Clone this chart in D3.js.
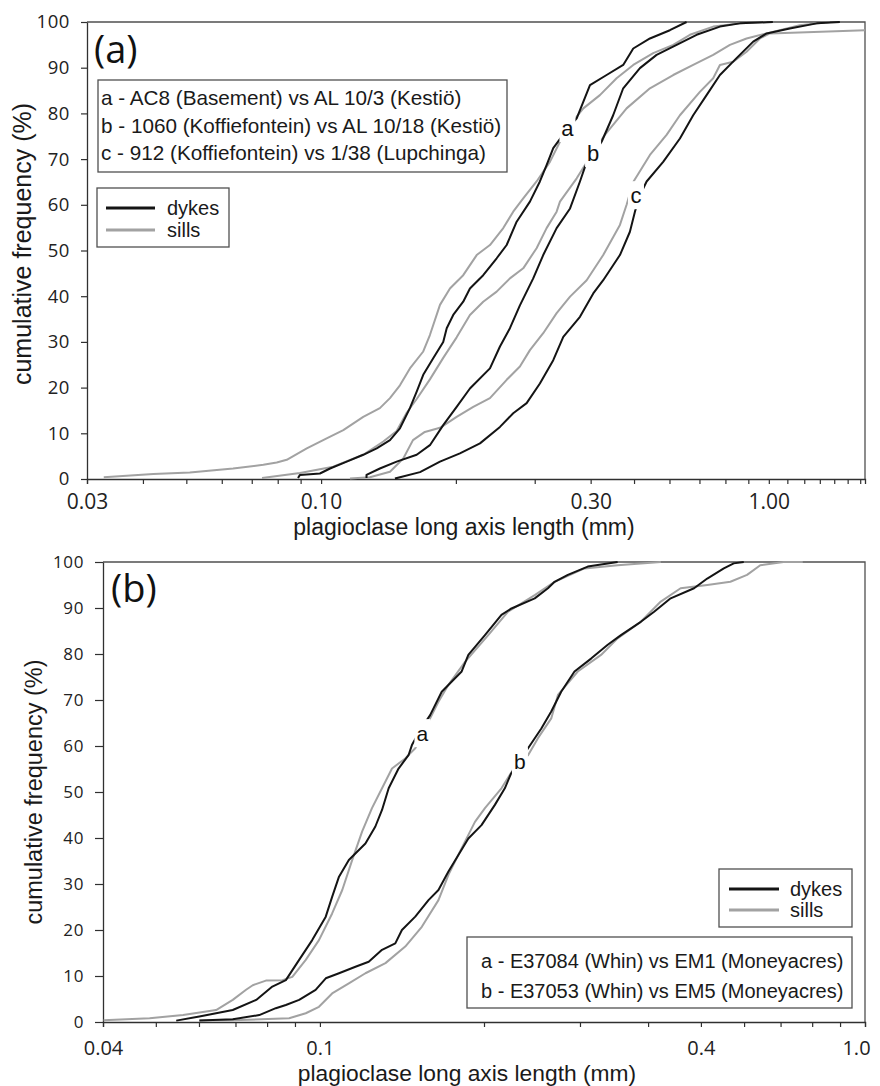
<!DOCTYPE html>
<html><head><meta charset="utf-8">
<script src="https://cdn.jsdelivr.net/npm/d3@7"></script>
<style>html,body{margin:0;padding:0;background:#fff;} svg{display:block;}</style>
</head><body>
<svg id="chart" width="880" height="1086"></svg>
<script>
// ---------------- DATA ----------------
// cumulative frequency (%) vs plagioclase long axis length (mm)
const Y_TICKS = [0,10,20,30,40,50,60,70,80,90,100];

// Panel (a)
const A_X_TICKS = [0.03,0.04,0.05,0.06,0.07,0.08,0.09,0.1,0.2,0.3,0.4,0.5,0.6,0.7,0.8,0.9,1.0,1.1,1.2,1.3,1.4,1.5,1.6];
const A_X_LABEL_AT = [0.03,0.1,0.4,1.0];
const A_X_LABELS = ["0.03","0.10","0.30","1.00"];
const A_SAMPLES = ["a - AC8 (Basement) vs AL 10/3 (Kestiö)","b - 1060 (Koffiefontein) vs AL 10/18 (Kestiö)","c - 912 (Koffiefontein) vs 1/38 (Lupchinga)"];

const A_a_sills = [[0.0327,0.4],[0.0422,1.1],[0.0509,1.4],[0.0636,2.3],[0.0743,3.1],[0.0796,3.6],[0.0838,4.2],[0.0929,6.7],[0.1029,8.9],[0.1121,10.7],[0.1242,13.6],[0.1353,15.5],[0.1425,17.7],[0.150,20.5],[0.1579,24.2],[0.1691,27.9],[0.1750,31.5],[0.1843,38.1],[0.1940,41.7],[0.2077,44.6],[0.2226,49.0],[0.2383,51.2],[0.2552,54.9],[0.2686,58.5],[0.2828,61.4],[0.3029,65.1],[0.3244,69.4],[0.3416,73.8],[0.3598,77.5],[0.3852,81.1],[0.4195,84.0],[0.4571,87.7],[0.4980,90.6],[0.5518,93.2],[0.6116,95.0],[0.6665,97.2],[0.7512,99.0],[0.8617,99.7],[0.9888,100]];
const A_a_dykes = [[0.0888,0.2],[0.0897,0.9],[0.0994,1.2],[0.1047,2.3],[0.1141,3.8],[0.1242,5.3],[0.1331,6.7],[0.1425,8.5],[0.150,11.1],[0.1579,15.5],[0.1635,19.1],[0.1691,22.8],[0.1780,26.4],[0.1874,30.0],[0.1908,33.0],[0.1973,35.9],[0.2077,38.8],[0.2150,41.7],[0.2302,44.6],[0.2467,48.3],[0.2597,51.2],[0.2734,56.3],[0.2927,60.7],[0.3081,65.1],[0.3189,68.7],[0.3300,72.4],[0.3536,76.4],[0.3723,78.9],[0.3986,86.2],[0.4342,88.4],[0.4729,90.6],[0.4980,94.2],[0.5426,96.4],[0.6012,98.2],[0.6551,100]];
const A_b_sills = [[0.0738,0.2],[0.0897,1.3],[0.1064,2.7],[0.1242,5.3],[0.1377,8.2],[0.1475,10.5],[0.1553,14.5],[0.1635,17.5],[0.1750,21.8],[0.1874,26.5],[0.2008,31.0],[0.2150,35.9],[0.2302,38.8],[0.2467,41.0],[0.2641,43.9],[0.2828,46.1],[0.3029,50.5],[0.3189,54.9],[0.3358,58.5],[0.3416,60.7],[0.3723,65.8],[0.3885,68.7],[0.409,72.0],[0.4304,75.3],[0.4812,81.1],[0.5426,85.5],[0.6116,88.4],[0.6778,90.6],[0.7512,92.8],[0.8187,95.0],[0.8919,96.4],[0.9888,97.5],[1.173,99.3],[1.369,100]];
const A_b_dykes = [[0.1263,0.2],[0.1263,0.9],[0.1353,2.3],[0.1475,3.8],[0.1635,5.3],[0.1750,7.4],[0.1874,11.8],[0.2008,15.8],[0.2150,19.8],[0.2383,24.2],[0.2509,29.0],[0.2641,33.0],[0.2780,38.0],[0.2977,43.9],[0.3134,49.0],[0.3358,54.9],[0.3598,59.2],[0.3786,65.1],[0.3885,68.3],[0.405,70.9],[0.4232,73.8],[0.4491,79.6],[0.4729,85.5],[0.5154,89.9],[0.5615,92.8],[0.6224,95.0],[0.6897,97.2],[0.7777,99.0],[0.8617,99.7],[1.021,100]];
const A_c_sills = [[0.1160,0.1],[0.1285,0.4],[0.1425,1.6],[0.1526,4.5],[0.1604,8.5],[0.1705,10.3],[0.1843,11.2],[0.2008,13.6],[0.2187,15.8],[0.2383,17.7],[0.2597,21.7],[0.2780,24.6],[0.2927,28.2],[0.3134,31.9],[0.3358,36.3],[0.3598,39.9],[0.3919,43.5],[0.4267,49.0],[0.4650,55.6],[0.4812,60.0],[0.4980,65.0],[0.5426,70.9],[0.5911,75.3],[0.6331,79.6],[0.7015,84.7],[0.7512,87.7],[0.7777,90.6],[0.8327,91.3],[0.8919,93.5],[0.9553,96.4],[1.0057,97.5],[1.639,98.2]];
const A_c_dykes = [[0.1462,0.1],[0.150,0.4],[0.1663,1.5],[0.1843,3.8],[0.2042,5.6],[0.2264,7.8],[0.2509,11.4],[0.2686,14.4],[0.2878,16.6],[0.3081,20.9],[0.3300,26.0],[0.3475,31.1],[0.3786,35.5],[0.4054,40.6],[0.4267,43.5],[0.4650,49.0],[0.4895,54.1],[0.5023,58.5],[0.5154,62.1],[0.5334,65.1],[0.5808,69.4],[0.6331,74.5],[0.6778,79.6],[0.7261,84.0],[0.7777,88.4],[0.8471,92.1],[0.9229,95.7],[0.9888,97.5],[1.114,98.6],[1.279,99.7],[1.441,100]];
const A_CURVE_LABELS = [["a",0.355,76.8],["b",0.405,71.3],["c",0.505,62.1]];

// Panel (b)
const B_X_TICKS = [0.04,0.05,0.06,0.07,0.08,0.09,0.1,0.2,0.3,0.4,0.5,0.6,0.7,0.8,0.9,1.0];
const B_X_LABEL_AT = [0.04,0.1,0.5,1.0];
const B_X_LABELS = ["0.04","0.1","0.4","1.0"];
const B_SAMPLES = ["a - E37084 (Whin) vs EM1 (Moneyacres)","b - E37053 (Whin) vs EM5 (Moneyacres)"];

const B_a_sills = [[0.0401,0.4],[0.0487,0.8],[0.0561,1.5],[0.0645,2.6],[0.0692,4.8],[0.0732,7.0],[0.0753,8.0],[0.0796,9.0],[0.0854,9.1],[0.0890,9.8],[0.0942,13.5],[0.0996,17.8],[0.1053,23.6],[0.1099,28.7],[0.1146,35.2],[0.1195,41.4],[0.1246,46.5],[0.1300,50.8],[0.1356,55.1],[0.1434,57.3],[0.1496,59.5],[0.1582,65.3],[0.1650,69.6],[0.1721,73.3],[0.1846,78.3],[0.2036,84.1],[0.2214,89.2],[0.2478,92.8],[0.2695,95.7],[0.3057,98.6],[0.3517,99.3],[0.422,100]];
const B_a_dykes = [[0.0545,0.3],[0.0601,1.2],[0.0692,2.6],[0.0764,4.8],[0.0818,7.7],[0.0866,9.1],[0.0916,13.5],[0.0968,17.8],[0.1025,22.9],[0.1053,27.2],[0.1084,31.6],[0.1130,35.2],[0.1212,38.8],[0.1264,42.5],[0.1300,46.1],[0.1337,50.8],[0.1394,55.1],[0.1454,58.0],[0.1475,60.2],[0.1528,63.5],[0.1593,66.7],[0.1673,71.8],[0.1820,76.2],[0.1872,79.8],[0.2008,84.1],[0.2153,88.5],[0.2246,89.9],[0.2478,92.1],[0.2620,94.3],[0.2695,95.7],[0.2850,97.2],[0.3100,99.0],[0.3517,100]];
const B_b_sills = [[0.0601,0.3],[0.0692,0.4],[0.0878,0.8],[0.0942,1.9],[0.0996,3.3],[0.1053,6.2],[0.1130,8.4],[0.1212,10.6],[0.1319,12.8],[0.1434,16.4],[0.1538,20.7],[0.1650,26.5],[0.1721,32.0],[0.1820,37.8],[0.1925,43.5],[0.2008,46.5],[0.2153,50.8],[0.229,55.9],[0.2409,58.0],[0.2512,61.7],[0.2657,66.0],[0.2733,71.1],[0.2972,76.2],[0.3279,79.8],[0.3517,83.4],[0.3879,87.0],[0.4220,91.4],[0.4589,94.3],[0.5136,95.0],[0.5663,95.7],[0.6076,97.2],[0.6425,99.3],[0.7089,100],[0.7688,100]];
const B_b_dykes = [[0.0601,0.3],[0.0692,0.6],[0.0774,1.5],[0.0830,3.0],[0.0866,3.7],[0.0916,4.8],[0.0982,7.0],[0.1025,9.5],[0.1084,10.6],[0.1162,12.0],[0.1229,13.1],[0.1300,15.7],[0.1375,17.1],[0.1414,20.0],[0.1496,22.9],[0.1582,26.5],[0.1650,28.7],[0.1721,32.7],[0.1795,36.3],[0.1872,39.9],[0.1979,42.8],[0.2094,47.2],[0.2184,50.8],[0.224,53.9],[0.2409,59.5],[0.2548,63.8],[0.2657,67.5],[0.2771,71.8],[0.2931,76.2],[0.3144,79.0],[0.3373,82.0],[0.3567,84.1],[0.3879,87.0],[0.4103,89.2],[0.4400,92.1],[0.4857,94.3],[0.5136,96.4],[0.5508,98.6],[0.5744,99.7],[0.5992,100]];
const B_CURVE_LABELS = [["a",0.1542,62.8],["b",0.2328,56.7]];

const SERIES_NAMES = ["dykes","sills"];
const X_TITLE = "plagioclase long axis length (mm)";
const Y_TITLE = "cumulative frequency (%)";

// ---------------- DRAWING ----------------
const svg = d3.select("#chart");
const BLACK = "#141414", GRAY = "#a2a2a2", FRAME = "#505050", AXIS = "#303030";
const TICKF = "'Open Sans','Noto Sans',sans-serif";
const TEXTF = "'Liberation Sans',Arial,sans-serif";

function fmtFor(values, labels) {
  return d => { const i = values.findIndex(v => Math.abs(v - d) / v < 1e-6); return i >= 0 ? labels[i] : ""; };
}

function drawPanel(p) {
  const g = svg.append("g");
  const x = d3.scaleLog().domain(p.xDomain).range([p.left, p.right]);
  const y = d3.scaleLinear().domain([0, 100]).range([p.bottom, p.top]);

  g.append("path").attr("d", `M${p.left},${p.top}H${p.right}V${p.bottom}`)
    .attr("fill", "none").attr("stroke", FRAME).attr("stroke-width", 1.3);

  const ya = g.append("g").attr("transform", `translate(${p.left},0)`)
    .call(d3.axisLeft(y).tickValues(Y_TICKS).tickSize(p.yTickLen).tickSizeOuter(0).tickPadding(p.yPad));
  ya.selectAll("text").attr("font-family", TICKF).attr("font-size", p.yFont).attr("fill", "#222").attr("letter-spacing", "0.6px");

  const xa = g.append("g").attr("transform", `translate(0,${p.bottom})`)
    .call(d3.axisBottom(x).tickValues(p.xTicks).tickFormat(fmtFor(p.xLabelAt, p.xLabels))
      .tickSize(5).tickSizeOuter(5).tickPadding(p.xPad));
  xa.selectAll("text").attr("font-family", TICKF).attr("font-size", p.xFont).attr("fill", "#222");
  if (p.lastLabelDx) xa.selectAll(".tick text").filter(d => Math.abs(d - p.xDomain[1]) < 1e-6).attr("dx", p.lastLabelDx);

  [ya, xa].forEach(a => {
    a.select(".domain").attr("stroke", AXIS).attr("stroke-width", 1.3);
    a.selectAll(".tick line").attr("stroke", AXIS).attr("stroke-width", 1.2);
  });

  g.append("text").attr("x", p.xTitleX).attr("y", p.xTitleY).attr("text-anchor", "middle")
    .attr("font-family", TEXTF).attr("font-size", p.xTitleFont).attr("fill", "#1a1a1a").text(X_TITLE);
  g.append("text").attr("transform", `translate(${p.yTitleX},${p.yTitleY}) rotate(-90)`).attr("text-anchor", "middle")
    .attr("font-family", TEXTF).attr("font-size", p.yTitleFont).attr("fill", "#1a1a1a").text(Y_TITLE);

  g.append("text").attr("x", p.tagX).attr("y", p.tagY).attr("font-family", TICKF)
    .attr("font-size", 38).attr("fill", "#111").text(p.tag);

  const line = d3.line().x(d => x(d[0])).y(d => y(d[1]));
  p.sills.forEach(s => g.append("path").attr("d", line(s)).attr("fill", "none")
    .attr("stroke", GRAY).attr("stroke-width", 2).attr("stroke-linejoin", "round"));
  p.dykes.forEach(s => g.append("path").attr("d", line(s)).attr("fill", "none")
    .attr("stroke", BLACK).attr("stroke-width", 2).attr("stroke-linejoin", "round"));

  p.curveLabels.forEach(([t, xv, yv]) => {
    const cx = x(xv), cy = y(yv);
    g.append("rect").attr("x", cx - 8).attr("y", cy - 14).attr("width", 16).attr("height", 28).attr("fill", "#fff");
    g.append("text").attr("x", cx).attr("y", cy).attr("dy", "0.36em").attr("text-anchor", "middle")
      .attr("font-family", TEXTF).attr("font-size", p.curveLabelFont).attr("fill", "#111").text(t);
  });

  const L = p.seriesLegend;
  g.append("rect").attr("x", L.x).attr("y", L.y).attr("width", L.w).attr("height", L.h)
    .attr("fill", "#fff").attr("stroke", FRAME).attr("stroke-width", 1.3);
  [[BLACK, SERIES_NAMES[0]], [GRAY, SERIES_NAMES[1]]].forEach(([c, t], i) => {
    const yy = L.y + L.row0 + i * L.rowGap;
    g.append("line").attr("x1", L.x + L.lx0).attr("x2", L.x + L.lx1).attr("y1", yy).attr("y2", yy)
      .attr("stroke", c).attr("stroke-width", 3);
    g.append("text").attr("x", L.x + L.tx).attr("y", yy).attr("dy", "0.35em")
      .attr("font-family", TEXTF).attr("font-size", 20).attr("fill", "#1a1a1a").text(t);
  });

  const S = p.sampleLegend;
  g.append("rect").attr("x", S.x).attr("y", S.y).attr("width", S.w).attr("height", S.h)
    .attr("fill", "#fff").attr("stroke", FRAME).attr("stroke-width", 1.3);
  p.samples.forEach((t, i) => {
    g.append("text").attr("x", S.tx).attr("y", S.y + S.base0 + i * S.gap)
      .attr("font-family", TEXTF).attr("font-size", S.font).attr("fill", "#1a1a1a").text(t);
  });
}

drawPanel({
  tag: "(a)", tagX: 94, tagY: 63,
  xDomain: [0.03, 1.64], left: 87, right: 865, top: 22, bottom: 479,
  xTicks: A_X_TICKS, xLabelAt: A_X_LABEL_AT, xLabels: A_X_LABELS,
  yTickLen: 6, yPad: 11, yFont: 18.5, xPad: 10, xFont: 21,
  xTitleX: 464, xTitleY: 535, xTitleFont: 23,
  yTitleX: 31, yTitleY: 244, yTitleFont: 25,
  sills: [A_a_sills, A_b_sills, A_c_sills], dykes: [A_a_dykes, A_b_dykes, A_c_dykes],
  curveLabels: A_CURVE_LABELS, curveLabelFont: 22,
  seriesLegend: { x: 97, y: 188, w: 132, h: 59, lx0: 9, lx1: 58, tx: 70, row0: 20, rowGap: 22 },
  sampleLegend: { x: 98, y: 80, w: 409, h: 92, tx: 101, base0: 25, gap: 27.5, font: 20.7 },
  samples: A_SAMPLES
});

drawPanel({
  tag: "(b)", tagX: 111, tagY: 602,
  xDomain: [0.04, 1.0], left: 103, right: 865, top: 562, bottom: 1022,
  xTicks: B_X_TICKS, xLabelAt: B_X_LABEL_AT, xLabels: B_X_LABELS,
  yTickLen: 8, yPad: 11, yFont: 17, xPad: 14, xFont: 20, lastLabelDx: -9,
  xTitleX: 467, xTitleY: 1081, xTitleFont: 22.8,
  yTitleX: 41.5, yTitleY: 792, yTitleFont: 23.5,
  sills: [B_a_sills, B_b_sills], dykes: [B_a_dykes, B_b_dykes],
  curveLabels: B_CURVE_LABELS, curveLabelFont: 21,
  seriesLegend: { x: 719, y: 869, w: 133, h: 58, lx0: 10, lx1: 60, tx: 71, row0: 20, rowGap: 21 },
  sampleLegend: { x: 467, y: 937, w: 385, h: 71, tx: 481, base0: 31, gap: 30, font: 20 },
  samples: B_SAMPLES
});
</script>
</body></html>
